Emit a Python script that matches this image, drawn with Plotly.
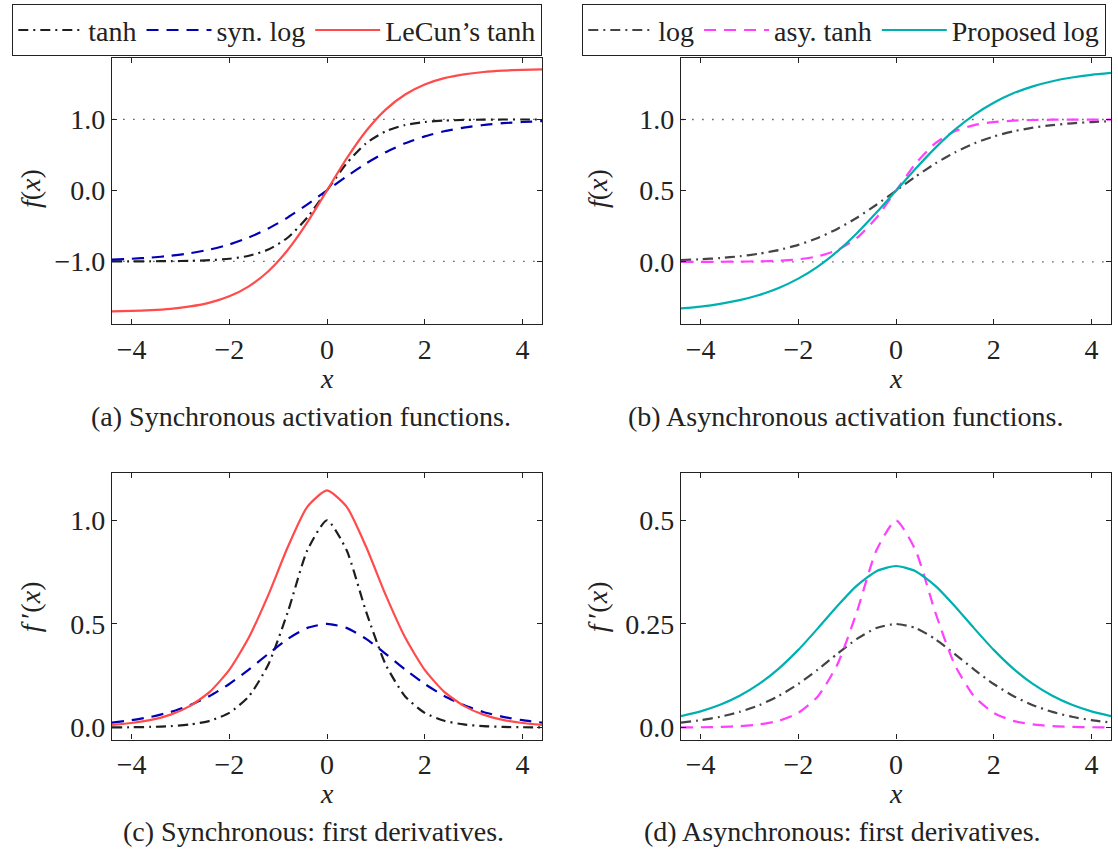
import plotly.graph_objects as go

# ---------------- data ----------------
x_vals = [-4.4, -4.0, -3.6, -3.2, -2.8, -2.4, -2.0, -1.6, -1.2, -0.8, -0.4, 0.0,
          0.4, 0.8, 1.2, 1.6, 2.0, 2.4, 2.8, 3.2, 3.6, 4.0, 4.4]

# (a) synchronous activation functions
tanh_f = [-0.9997, -0.9993, -0.999, -0.997, -0.993, -0.984, -0.964, -0.922, -0.834, -0.664, -0.380, 0.0,
          0.380, 0.664, 0.834, 0.922, 0.964, 0.984, 0.993, 0.997, 0.999, 0.9993, 0.9997]
synlog_f = [-0.976, -0.964, -0.947, -0.922, -0.885, -0.834, -0.762, -0.664, -0.537, -0.380, -0.197, 0.0,
            0.197, 0.380, 0.537, 0.664, 0.762, 0.834, 0.885, 0.922, 0.947, 0.964, 0.976]
lecun_f = [-1.706, -1.699, -1.688, -1.669, -1.636, -1.582, -1.493, -1.352, -1.139, -0.837, -0.447, 0.0,
           0.447, 0.837, 1.139, 1.352, 1.493, 1.582, 1.636, 1.669, 1.688, 1.699, 1.706]

# (b) asynchronous activation functions
log_f = [0.0121, 0.0180, 0.0266, 0.0392, 0.0573, 0.0832, 0.1192, 0.1680, 0.2315, 0.3100, 0.4013, 0.5,
         0.5987, 0.6900, 0.7685, 0.8320, 0.8808, 0.9168, 0.9427, 0.9608, 0.9734, 0.9820, 0.9879]
asytanh_f = [0.0002, 0.0003, 0.0006, 0.0015, 0.0035, 0.008, 0.018, 0.039, 0.083, 0.168, 0.310, 0.5,
             0.690, 0.832, 0.917, 0.961, 0.982, 0.992, 0.9965, 0.9985, 0.9994, 0.9997, 0.9998]
proposed_f = [-0.327, -0.314, -0.295, -0.269, -0.233, -0.184, -0.118, -0.033, 0.073, 0.201, 0.346, 0.5,
              0.654, 0.799, 0.927, 1.033, 1.118, 1.184, 1.233, 1.269, 1.295, 1.314, 1.327]

# (c) synchronous first derivatives
tanh_d = [0.0006, 0.0013, 0.0030, 0.0066, 0.0147, 0.0323, 0.0707, 0.150, 0.304, 0.559, 0.856, 1.0,
          0.856, 0.559, 0.304, 0.150, 0.0707, 0.0323, 0.0147, 0.0066, 0.0030, 0.0013, 0.0006]
synlog_d = [0.0237, 0.0353, 0.0516, 0.0750, 0.1084, 0.1522, 0.2100, 0.2795, 0.3558, 0.4278, 0.4806, 0.5,
            0.4806, 0.4278, 0.3558, 0.2795, 0.2100, 0.1522, 0.1084, 0.0750, 0.0516, 0.0353, 0.0237]
lecun_d = [0.0128, 0.0218, 0.0369, 0.0622, 0.1045, 0.172, 0.278, 0.434, 0.640, 0.872, 1.066, 1.144,
           1.066, 0.872, 0.640, 0.434, 0.278, 0.172, 0.1045, 0.0622, 0.0369, 0.0218, 0.0128]

# (d) asynchronous first derivatives
log_d = [0.0120, 0.0177, 0.0259, 0.0377, 0.0540, 0.0763, 0.1050, 0.1398, 0.1779, 0.2139, 0.2403, 0.25,
         0.2403, 0.2139, 0.1779, 0.1398, 0.1050, 0.0763, 0.0540, 0.0377, 0.0259, 0.0177, 0.0120]
asytanh_d = [0.0003, 0.0007, 0.0015, 0.0033, 0.0074, 0.0161, 0.0353, 0.075, 0.152, 0.2795, 0.428, 0.5,
             0.428, 0.2795, 0.152, 0.075, 0.0353, 0.0161, 0.0074, 0.0033, 0.0015, 0.0007, 0.0003]
proposed_d = [0.0276, 0.0391, 0.0549, 0.0767, 0.1052, 0.1422, 0.1874, 0.2394, 0.2936, 0.3427, 0.3774, 0.390,
              0.3774, 0.3427, 0.2936, 0.2394, 0.1874, 0.1422, 0.1052, 0.0767, 0.0549, 0.0391, 0.0276]

x_ticks = [-4, -2, 0, 2, 4]
ya_ticks = [-1.0, 0.0, 1.0]
yb_ticks = [0.0, 0.5, 1.0]
yc_ticks = [0.0, 0.5, 1.0]
yd_ticks = [0.0, 0.25, 0.5]
yd_ticktext = ["0.0", "0.25", "0.5"]
ref_a = [-1.0, 1.0]
ref_b = [0.0, 1.0]

captions = ["(a) Synchronous activation functions.",
            "(b) Asynchronous activation functions.",
            "(c) Synchronous: first derivatives.",
            "(d) Asynchronous: first derivatives."]

# ---------------- styling ----------------
W, H = 1118, 856
FONT = "Liberation Serif, DejaVu Serif, serif"
TXT = "#222222"
FS = 28

C_TANH = "#1e1e1e"
C_SYN = "#0000b4"
C_LECUN = "#ff4b4b"
C_LOG = "#444444"
C_ASY = "#ff40ff"
C_PROP = "#00b0b0"

DASHDOT = "10px,5px,2px,5px"
DASH = "12px,8px"
LW = 2.2

def px_x(a, b):
    return [a / W, b / W]

def px_y(top, bottom):
    return [1 - bottom / H, 1 - top / H]

fig = go.Figure()

panels = {
    "a": dict(xa="x", ya="y"),
    "b": dict(xa="x2", ya="y2"),
    "c": dict(xa="x3", ya="y3"),
    "d": dict(xa="x4", ya="y4"),
}

def add_line(panel, yv, name, color, dash, legend, show):
    fig.add_trace(go.Scatter(
        x=x_vals, y=yv, mode="lines", name=name,
        line=dict(color=color, width=LW, dash=dash, shape="spline", smoothing=0.6),
        xaxis=panels[panel]["xa"], yaxis=panels[panel]["ya"],
        legend=legend, showlegend=show))

def add_ref(panel, yval):
    fig.add_trace(go.Scatter(
        x=[x_vals[0] - 1, x_vals[-1] + 1], y=[yval, yval], mode="lines",
        line=dict(color="#555555", width=1.3, dash="1.5px,8.5px"),
        xaxis=panels[panel]["xa"], yaxis=panels[panel]["ya"],
        showlegend=False, hoverinfo="skip"))

for v in ref_a:
    add_ref("a", v)
for v in ref_b:
    add_ref("b", v)

add_line("a", tanh_f, "tanh", C_TANH, DASHDOT, "legend", True)
add_line("a", synlog_f, "syn. log", C_SYN, DASH, "legend", True)
add_line("a", lecun_f, "LeCun\u2019s tanh", C_LECUN, "solid", "legend", True)

add_line("b", log_f, "log", C_LOG, DASHDOT, "legend2", True)
add_line("b", asytanh_f, "asy. tanh", C_ASY, DASH, "legend2", True)
add_line("b", proposed_f, "Proposed log", C_PROP, "solid", "legend2", True)

add_line("c", tanh_d, "tanh", C_TANH, DASHDOT, "legend", False)
add_line("c", synlog_d, "syn. log", C_SYN, DASH, "legend", False)
add_line("c", lecun_d, "LeCun\u2019s tanh", C_LECUN, "solid", "legend", False)

add_line("d", log_d, "log", C_LOG, DASHDOT, "legend2", False)
add_line("d", asytanh_d, "asy. tanh", C_ASY, DASH, "legend2", False)
add_line("d", proposed_d, "Proposed log", C_PROP, "solid", "legend2", False)

common_axis = dict(
    showline=True, linecolor=TXT, linewidth=1.3, mirror="ticks",
    ticks="inside", ticklen=5, tickwidth=1, tickcolor=TXT,
    showgrid=False, zeroline=False,
    tickfont=dict(family=FONT, size=FS, color=TXT),
)

left_dom = px_x(112, 542)
right_dom = px_x(681, 1111)
top_dom = px_y(58, 326)
bot_dom = px_y(475, 743)

xrng = [-4.4, 4.4]

leg_common = dict(orientation="h", y=1 - 4 / H, xanchor="left", yanchor="top",
                  bordercolor=TXT, borderwidth=1.3, bgcolor="white",
                  font=dict(family=FONT, size=FS, color=TXT),
                  itemwidth=65, tracegroupgap=0)

fig.update_layout(
    width=W, height=H,
    margin=dict(l=0, r=0, t=0, b=0),
    paper_bgcolor="white", plot_bgcolor="white",
    font=dict(family=FONT, size=FS, color=TXT),
    xaxis=dict(domain=left_dom, anchor="y", range=xrng, tickvals=x_ticks, **common_axis),
    yaxis=dict(domain=top_dom, anchor="x", range=[-1.89, 1.87], tickvals=ya_ticks,
               tickformat=".1f", **common_axis),
    xaxis2=dict(domain=right_dom, anchor="y2", range=xrng, tickvals=x_ticks, **common_axis),
    yaxis2=dict(domain=top_dom, anchor="x2", range=[-0.44, 1.434], tickvals=yb_ticks,
                tickformat=".1f", **common_axis),
    xaxis3=dict(domain=left_dom, anchor="y3", range=xrng, tickvals=x_ticks, **common_axis),
    yaxis3=dict(domain=bot_dom, anchor="x3", range=[-0.058, 1.229], tickvals=yc_ticks,
                tickformat=".1f", **common_axis),
    xaxis4=dict(domain=right_dom, anchor="y4", range=xrng, tickvals=x_ticks, **common_axis),
    yaxis4=dict(domain=bot_dom, anchor="x4", range=[-0.029, 0.615], tickvals=yd_ticks,
                ticktext=yd_ticktext, **common_axis),
    legend=dict(x=12 / W, **leg_common),
    legend2=dict(x=582 / W, **leg_common),
)

annos = []
# y-axis titles
for (cx, cy, txt) in [(30, 190, "<i>f</i>(<i>x</i>)"), (597, 190, "<i>f</i>(<i>x</i>)"),
                      (30, 610, "<i>f</i>\u2009\u2032(<i>x</i>)"), (597, 610, "<i>f</i>\u2009\u2032(<i>x</i>)")]:
    annos.append(dict(x=cx / W, y=1 - cy / H, xref="paper", yref="paper", text=txt,
                      textangle=-90, showarrow=False, xanchor="center", yanchor="middle",
                      font=dict(family=FONT, size=FS, color=TXT)))
# x-axis titles
for (cx, cy) in [(327, 380), (896, 380), (327, 797), (896, 797)]:
    annos.append(dict(x=cx / W, y=1 - cy / H, xref="paper", yref="paper", text="<i>x</i>",
                      showarrow=False, xanchor="center", yanchor="middle",
                      font=dict(family=FONT, size=FS, color=TXT)))
# captions
for (cx, cy), txt in zip([(301, 418), (845, 418), (313, 835), (842, 835)], captions):
    annos.append(dict(x=cx / W, y=1 - cy / H, xref="paper", yref="paper", text=txt,
                      showarrow=False, xanchor="center", yanchor="middle",
                      font=dict(family=FONT, size=FS, color=TXT)))
fig.update_layout(annotations=annos)

fig.write_html("out.html")
